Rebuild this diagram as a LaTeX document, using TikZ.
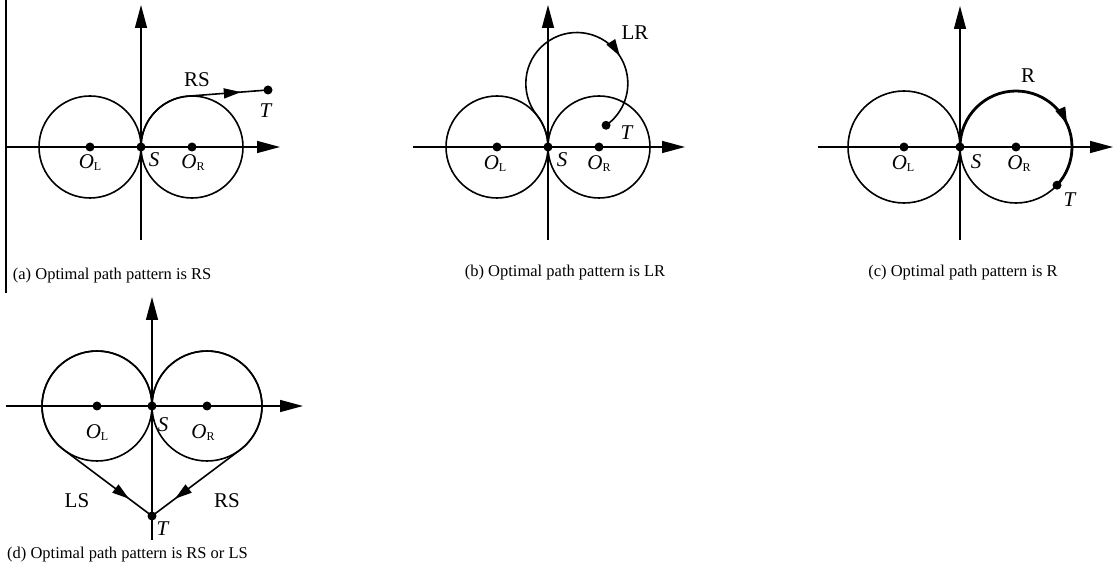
\documentclass[tikz,border=0pt]{standalone}
\usepackage{fontspec}
\setmainfont{Liberation Serif}
\usetikzlibrary{arrows.meta, decorations.markings}

\begin{document}
\begin{tikzpicture}[
    x=1pt, y=1pt,
    axis/.style={line width=1.4pt, -{Triangle[length=23pt, width=12pt]}},
    ring/.style={line width=1.6pt},
    route/.style={line width=1.6pt},
    boldroute/.style={line width=2.8pt},
    dot/.style={circle, fill, inner sep=0pt, minimum size=9pt},
    lbl/.style={font=\fontsize{21}{24}\selectfont, inner sep=0pt},
    captext/.style={font=\fontsize{16.5}{20}\selectfont, inner sep=0pt},
    midarrow/.style={postaction={decorate, decoration={markings, mark=at position #1 with {\arrow{Triangle[length=17pt, width=10pt]}}}}}
]
\useasboundingbox (0,0) rectangle (1113,586);

\coordinate (edgeTop) at (6,586);
\coordinate (edgeBot) at (6,293);
\draw[line width=1.4pt] (edgeTop) -- (edgeBot);

\begin{scope}[shift={(141,439)}]
\coordinate (aW) at (-135,0);
\coordinate (aE) at (139,0);
\coordinate (aBot) at (0,-93);
\coordinate (aTop) at (0,142);
\node[dot] (aOL) at (-51,0) {};
\node[dot] (aS) at (0,0) {};
\node[dot] (aOR) at (51,0) {};
\node[dot] (aT) at (127,57) {};
\draw[axis] (aW) -- (aE);
\draw[axis] (aBot) -- (aTop);
\draw[ring] (aOL.center) circle[radius=51pt];
\draw[ring] (aOR.center) circle[radius=51pt];
\draw[route] (aS.center) arc[start angle=180, end angle=94.4, radius=51pt] coordinate (aP);
\draw[route, midarrow=0.66] (aP) -- (aT.center);
\node[lbl] (aOLlbl) at (-51,-16) {\textit{O}\raisebox{-2pt}{\fontsize{12}{12}\selectfont L}};
\node[lbl] (aSlbl) at (13,-13) {\textit{S}};
\node[lbl] (aORlbl) at (52,-16) {\textit{O}\raisebox{-2pt}{\fontsize{12}{12}\selectfont R}};
\node[lbl] (aTlbl) at (125,36) {\textit{T}};
\node[lbl] (aRS) at (56,67) {RS};
\end{scope}

\begin{scope}[shift={(548,439)}]
\coordinate (bW) at (-135,0);
\coordinate (bE) at (137,0);
\coordinate (bBot) at (0,-93);
\coordinate (bTop) at (0,142);
\node[dot] (bOL) at (-51,0) {};
\node[dot] (bS) at (0,0) {};
\node[dot] (bOR) at (51,0) {};
\node[dot] (bT) at (58.05,21.72) {};
\draw[axis] (bW) -- (bE);
\draw[axis] (bBot) -- (bTop);
\draw[ring] (bOL.center) circle[radius=51pt];
\draw[ring] (bOR.center) circle[radius=51pt];
\draw[route, midarrow=0.72] (bS.center) arc[start angle=0, end angle=38.5, radius=51pt]
    arc[start angle=218.5, end angle=-55, radius=51pt];
\node[lbl] (bOLlbl) at (-53,-17) {\textit{O}\raisebox{-2pt}{\fontsize{12}{12}\selectfont L}};
\node[lbl] (bSlbl) at (14,-13) {\textit{S}};
\node[lbl] (bORlbl) at (51,-17) {\textit{O}\raisebox{-2pt}{\fontsize{12}{12}\selectfont R}};
\node[lbl] (bTlbl) at (79,14) {\textit{T}};
\node[lbl] (bLR) at (87,114) {LR};
\end{scope}

\begin{scope}[shift={(960,439)}]
\coordinate (cW) at (-142,0);
\coordinate (cE) at (153,0);
\coordinate (cBot) at (0,-93);
\coordinate (cTop) at (0,141);
\node[dot] (cOL) at (-56,0) {};
\node[dot] (cS) at (0,0) {};
\node[dot] (cOR) at (56,0) {};
\node[dot] (cT) at (97,-38.2) {};
\draw[axis] (cW) -- (cE);
\draw[axis] (cBot) -- (cTop);
\draw[ring] (cOL.center) circle[radius=56pt];
\draw[ring] (cOR.center) circle[radius=56pt];
\draw[boldroute, midarrow=0.70] (cS.center) arc[start angle=180, end angle=-43, radius=56pt];
\node[lbl] (cOLlbl) at (-57,-17) {\textit{O}\raisebox{-2pt}{\fontsize{12}{12}\selectfont L}};
\node[lbl] (cSlbl) at (16,-15) {\textit{S}};
\node[lbl] (cORlbl) at (59,-17) {\textit{O}\raisebox{-2pt}{\fontsize{12}{12}\selectfont R}};
\node[lbl] (cTlbl) at (110,-53) {\textit{T}};
\node[lbl] (cR) at (68,71) {R};
\end{scope}

\begin{scope}[shift={(152,180)}]
\coordinate (dW) at (-146,0);
\coordinate (dE) at (151,0);
\coordinate (dBot) at (0,-134);
\coordinate (dTop) at (0,109);
\node[dot] (dOL) at (-55,0) {};
\node[dot] (dS) at (0,0) {};
\node[dot] (dOR) at (55,0) {};
\node[dot] (dT) at (0,-110) {};
\draw[axis] (dW) -- (dE);
\draw[axis] (dBot) -- (dTop);
\draw[ring] (dOL.center) circle[radius=55pt];
\draw[ring] (dOR.center) circle[radius=55pt];
\draw[route] (dS.center) arc[start angle=0, end angle=233.13, radius=55pt] coordinate (dP);
\draw[route, midarrow=0.74] (dP) -- (dT.center);
\draw[route] (dS.center) arc[start angle=180, end angle=-53.13, radius=55pt] coordinate (dQ);
\draw[route, midarrow=0.74] (dQ) -- (dT.center);
\node[lbl] (dOLlbl) at (-55,-27) {\textit{O}\raisebox{-2pt}{\fontsize{12}{12}\selectfont L}};
\node[lbl] (dSlbl) at (11,-19) {\textit{S}};
\node[lbl] (dORlbl) at (51,-27) {\textit{O}\raisebox{-2pt}{\fontsize{12}{12}\selectfont R}};
\node[lbl] (dTlbl) at (11,-123) {\textit{T}};
\node[lbl] (dLS) at (-75,-95) {LS};
\node[lbl] (dRS) at (75,-95) {RS};
\end{scope}

\node[captext, anchor=west] (capA) at (12.7,310) {(a) Optimal path pattern is RS};
\node[captext] (capB) at (565,313) {(b) Optimal path pattern is LR};
\node[captext] (capC) at (963,313) {(c) Optimal path pattern is R};
\node[captext, anchor=west] (capD) at (7,31) {(d) Optimal path pattern is RS or LS};

\end{tikzpicture}
\end{document}
